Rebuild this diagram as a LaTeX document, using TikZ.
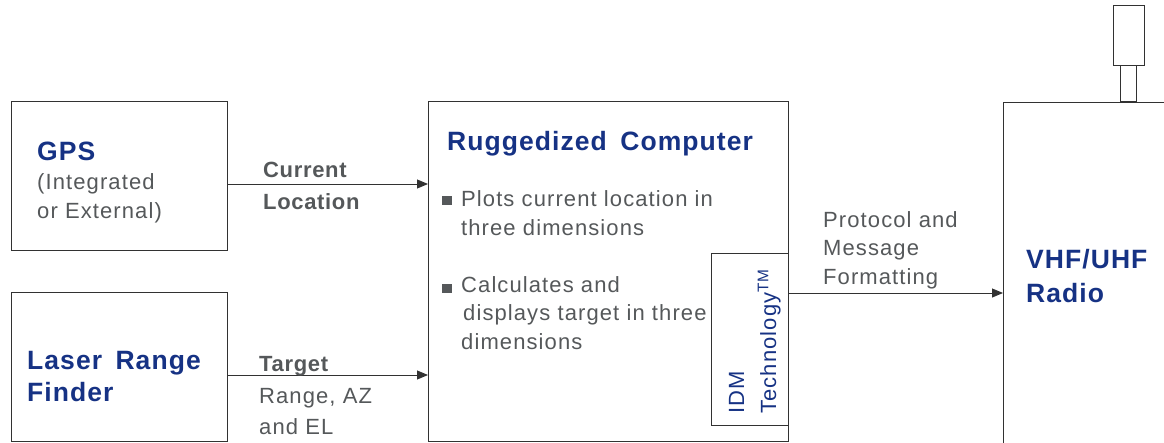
\documentclass[tikz,border=0pt]{standalone}
\usepackage{fontspec}
\setmainfont{Liberation Sans}
\newfontfamily\bodyfont[LetterSpace=5]{Liberation Sans}
\newfontfamily\boldfont[LetterSpace=3]{Liberation Sans}
\newfontfamily\titlefont[LetterSpace=4]{Liberation Sans}
\usetikzlibrary{arrows.meta}
\definecolor{navy}{RGB}{22,50,132}
\definecolor{txtgray}{RGB}{85,88,90}
\definecolor{linegray}{RGB}{50,50,50}
\tikzset{
  box/.style={draw=linegray, line width=0.9pt},
  flow/.style={draw=linegray, line width=0.9pt, -{Triangle[length=11pt,width=9pt]}},
  title/.style={anchor=base west, inner sep=0pt, text=navy, font=\titlefont\fontsize{26.5}{34}\selectfont\bfseries, align=left},
  body/.style={anchor=base west, inner sep=0pt, text=txtgray, font=\bodyfont\fontsize{22}{28.5}\selectfont, align=left},
  bodyb/.style={anchor=base west, inner sep=0pt, text=txtgray, font=\boldfont\fontsize{22}{32}\selectfont\bfseries, align=left},
}
\begin{document}
\begin{tikzpicture}[x=1pt,y=-1pt]
\useasboundingbox (0,0) rectangle (1164,442);
% boxes
\node[box, minimum width=216pt, minimum height=149pt, anchor=north west, inner sep=0pt] (gps) at (11,101) {};
\node[box, minimum width=216pt, minimum height=149pt, anchor=north west, inner sep=0pt] (lrf) at (11,292) {};
\node[box, minimum width=360pt, minimum height=340pt, anchor=north west, inner sep=0pt] (comp) at (428,101) {};
\node[box, minimum width=77pt, minimum height=172pt, anchor=north west, inner sep=0pt] (idm) at (711,253) {};
% radio box (cut at right)
\coordinate (rtr) at (1164,102);
\coordinate (rbl) at (1003,443);
\draw[box] (rbl) |- (rtr);
% antenna
\node[box, minimum width=16pt, minimum height=36pt, anchor=south west, inner sep=0pt] (ant1) at (1120,102) {};
\node[box, minimum width=31pt, minimum height=60pt, anchor=south west, inner sep=0pt] (ant2) at (1113,66) {};
% arrows
\coordinate (gA) at (gps.east |- 0,184);
\coordinate (gB) at (comp.west |- 0,184);
\draw[flow] (gA) -- (gB);
\coordinate (tA) at (lrf.east |- 0,375);
\coordinate (tB) at (comp.west |- 0,375);
\draw[flow] (tA) -- (tB);
\coordinate (pA) at (idm.east |- 0,293);
\coordinate (pB) at (rbl |- 0,293);
\draw[flow] (pA) -- (pB);
% texts
\node[title] (gpst) at (37,160) {GPS};
\node[body, font=\bodyfont\fontsize{22}{29}\selectfont] (gpsb) at (37,218) {(Integrated\\or External)};
\node[bodyb] (cl) at (263,209) {Current\\Location};
\node[title, font=\titlefont\fontsize{26.5}{32}\selectfont\bfseries] (lrft) at (27,401) {Laser\hspace{5pt} Range\\Finder};
\node[bodyb] (tg) at (259,371) {Target};
\node[body, font=\bodyfont\fontsize{22}{31}\selectfont] (rg) at (259,434) {Range, AZ\\and EL};
\node[title] (ct) at (447,150) {Ruggedized\hspace{5pt} Computer};
\fill[txtgray] (442,196) rectangle (452,205);
\node[body] (b1) at (461,235) {Plots current location in\\three dimensions};
\fill[txtgray] (442,284) rectangle (452,293);
\node[body] (b2) at (461,349) {Calculates and\\\hspace*{2pt}displays target in three\\dimensions};
\node[body, text=navy, rotate=90] (idmt) at (744,414) {IDM};
\node[body, text=navy, rotate=90] (idmt2) at (776,414) {Technology\textsuperscript{TM}};
\node[body] (pr) at (823,284) {Protocol and\\Message\\Formatting};
\node[title] (vhf) at (1026,302) {VHF/UHF\\Radio};
\end{tikzpicture}
\end{document}
